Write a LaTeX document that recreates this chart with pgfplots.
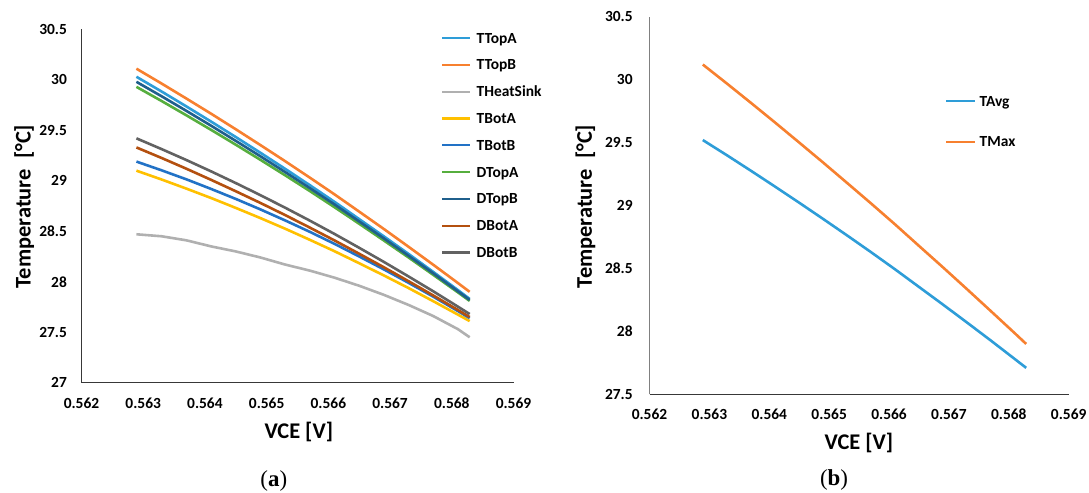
\documentclass[border=0pt]{standalone}
\usepackage{fontspec}
\setmainfont{Carlito}
\newfontfamily\serifcap{Liberation Serif}
\usepackage{pgfplots}
\usepackage{pgfplotstable}
\pgfplotsset{compat=1.18}

\definecolor{cTTopA}{HTML}{2E9DD8}
\definecolor{cTTopB}{HTML}{F7802F}
\definecolor{cTHeat}{HTML}{B0B0B0}
\definecolor{cTBotA}{HTML}{FFC000}
\definecolor{cTBotB}{HTML}{2272C6}
\definecolor{cDTopA}{HTML}{56AE3E}
\definecolor{cDTopB}{HTML}{1F5F8C}
\definecolor{cDBotA}{HTML}{B4500F}
\definecolor{cDBotB}{HTML}{626262}

\pgfplotstableread{
x       TTopA  TTopB  THeat  TBotA  TBotB  DTopA  DTopB  DBotA  DBotB
0.56289 30.03  30.11  28.47  29.10  29.19  29.93  29.98  29.33  29.42
0.5633  29.883 29.962 28.45  29.012 29.103 29.789 29.836 29.225 29.313
0.5637  29.736 29.814 28.41  28.922 29.014 29.648 29.692 29.119 29.205
0.5641  29.586 29.664 28.35  28.829 28.919 29.504 29.545 29.009 29.093
0.5645  29.433 29.510 28.30  28.731 28.820 29.357 29.395 28.896 28.977
0.5649  29.277 29.353 28.24  28.630 28.716 29.207 29.242 28.780 28.857
0.5653  29.118 29.194 28.17  28.525 28.607 29.054 29.086 28.660 28.733
0.5657  28.956 29.031 28.11  28.415 28.494 28.898 28.927 28.536 28.605
0.5661  28.791 28.865 28.04  28.302 28.375 28.738 28.765 28.409 28.473
0.5665  28.620 28.694 27.96  28.183 28.250 28.574 28.597 28.277 28.336
0.5669  28.449 28.522 27.87  28.062 28.122 28.408 28.429 28.143 28.196
0.5673  28.275 28.346 27.77  27.937 27.989 28.240 28.257 28.005 28.052
0.5677  28.097 28.168 27.66  27.807 27.852 28.068 28.083 27.864 27.905
0.5681  27.917 27.987 27.53  27.674 27.709 27.894 27.905 27.720 27.753
0.56829 27.83  27.90  27.45  27.61  27.64  27.81  27.82  27.65  27.68
}\tableA

\pgfplotstableread{
x       TAvg   TMax
0.56289 29.52  30.12
0.5633  29.397 29.966
0.5637  29.274 29.813
0.5641  29.149 29.658
0.5645  29.022 29.500
0.5649  28.893 29.341
0.5653  28.762 29.179
0.5657  28.629 29.016
0.5661  28.493 28.850
0.5665  28.353 28.679
0.5669  28.213 28.509
0.5673  28.071 28.336
0.5677  27.927 28.161
0.5681  27.780 27.985
0.56829 27.71  27.90
}\tableB

\pgfplotsset{
  myaxis/.style={
    scale only axis,
    axis x line*=bottom, axis y line*=left,
    axis line style={line width=1.3bp, color=black!78, -},
    major tick length=0pt,
    tick style={draw=none},
    xmin=0.562, xmax=0.569,
    xtick={0.562,0.563,0.564,0.565,0.566,0.567,0.568,0.569},
    xticklabels={0.562,0.563,0.564,0.565,0.566,0.567,0.568,0.569},
    scaled x ticks=false, scaled y ticks=false,
    tick label style={font=\fontsize{15.5}{18}\selectfont\bfseries, inner sep=0pt, text=black},
    xticklabel style={anchor=north, yshift=-14.8bp},
    label style={font=\fontsize{22.5}{26}\selectfont\bfseries},
    legend cell align=left,
    legend style={draw=none, fill=none, inner sep=0pt, outer sep=0pt,
      anchor=north west,
      font=\fontsize{15.5}{18}\selectfont\bfseries,
      nodes={inner sep=0pt, text height=10bp, text depth=0pt}},
    every axis plot/.append style={line width=2.6bp, no markers, line join=round},
  }
}

\begin{document}
\begin{tikzpicture}
\path[use as bounding box] (0,0) rectangle (1089bp,493bp);

% ---------- panel (a)
\begin{axis}[myaxis,
  at={(81.5bp,110.3bp)}, anchor=south west,
  width=432bp, height=353.4bp,
  ymin=27, ymax=30.5,
  ytick={27,27.5,28,28.5,29,29.5,30,30.5},
  yticklabels={27,27.5,28,28.5,29,29.5,30,30.5},
  yticklabel style={anchor=east, xshift=-14.4bp},
  xlabel={VCE [V]},
  ylabel={Temperature\ \ [°C]},
  xlabel style={at={(axis description cs:0.503,-0.140)}, anchor=center},
  ylabel style={at={(axis description cs:-0.1329,0.4986)}, anchor=center},
  legend style={at={(axis description cs:0.8322,0.9895)}, row sep=16.8bp, column sep=6bp},
  legend image code/.code={\draw[#1, line width=2.2bp] (0bp,0bp) -- (27.5bp,0bp);},
]
\addplot[cTTopA] table[x=x, y=TTopA] {\tableA};
\addlegendentry{TTopA}
\addplot[cTTopB] table[x=x, y=TTopB] {\tableA};
\addlegendentry{TTopB}
\addplot[cTHeat] table[x=x, y=THeat] {\tableA};
\addlegendentry{THeatSink}
\addplot[cTBotA] table[x=x, y=TBotA] {\tableA};
\addlegendentry{TBotA}
\addplot[cTBotB] table[x=x, y=TBotB] {\tableA};
\addlegendentry{TBotB}
\addplot[cDTopA] table[x=x, y=DTopA] {\tableA};
\addlegendentry{DTopA}
\addplot[cDTopB] table[x=x, y=DTopB] {\tableA};
\addlegendentry{DTopB}
\addplot[cDBotA] table[x=x, y=DBotA] {\tableA};
\addlegendentry{DBotA}
\addplot[cDBotB] table[x=x, y=DBotB] {\tableA};
\addlegendentry{DBotB}
\end{axis}

% ---------- panel (b)
\begin{axis}[myaxis,
  at={(649.5bp,98.7bp)}, anchor=south west,
  width=419.2bp, height=377.6bp,
  ymin=27.5, ymax=30.5,
  ytick={27.5,28,28.5,29,29.5,30,30.5},
  yticklabels={27.5,28,28.5,29,29.5,30,30.5},
  yticklabel style={anchor=east, xshift=-16.7bp},
  y axis line style={color=black!50},
  xlabel={VCE [V]},
  ylabel={Temperature\ \ [°C]},
  xlabel style={at={(axis description cs:0.4998,-0.1298)}, anchor=center},
  ylabel style={at={(axis description cs:-0.1527,0.4974)}, anchor=center},
  legend style={at={(axis description cs:0.7049,0.7892)}, row sep=30.4bp, column sep=3.5bp},
  legend image code/.code={\draw[#1, line width=2.2bp] (0bp,0bp) -- (29bp,0bp);},
]
\addplot[cTTopA] table[x=x, y=TAvg] {\tableB};
\addlegendentry{TAvg}
\addplot[cTTopB] table[x=x, y=TMax] {\tableB};
\addlegendentry{TMax}
\end{axis}

\node[font=\serifcap\fontsize{23}{26}\selectfont, inner sep=0pt] at (273.8bp,12.5bp) {(\textbf{a})};
\node[font=\serifcap\fontsize{23}{26}\selectfont, inner sep=0pt] at (834bp,13.5bp) {(\textbf{b})};
\end{tikzpicture}
\end{document}
